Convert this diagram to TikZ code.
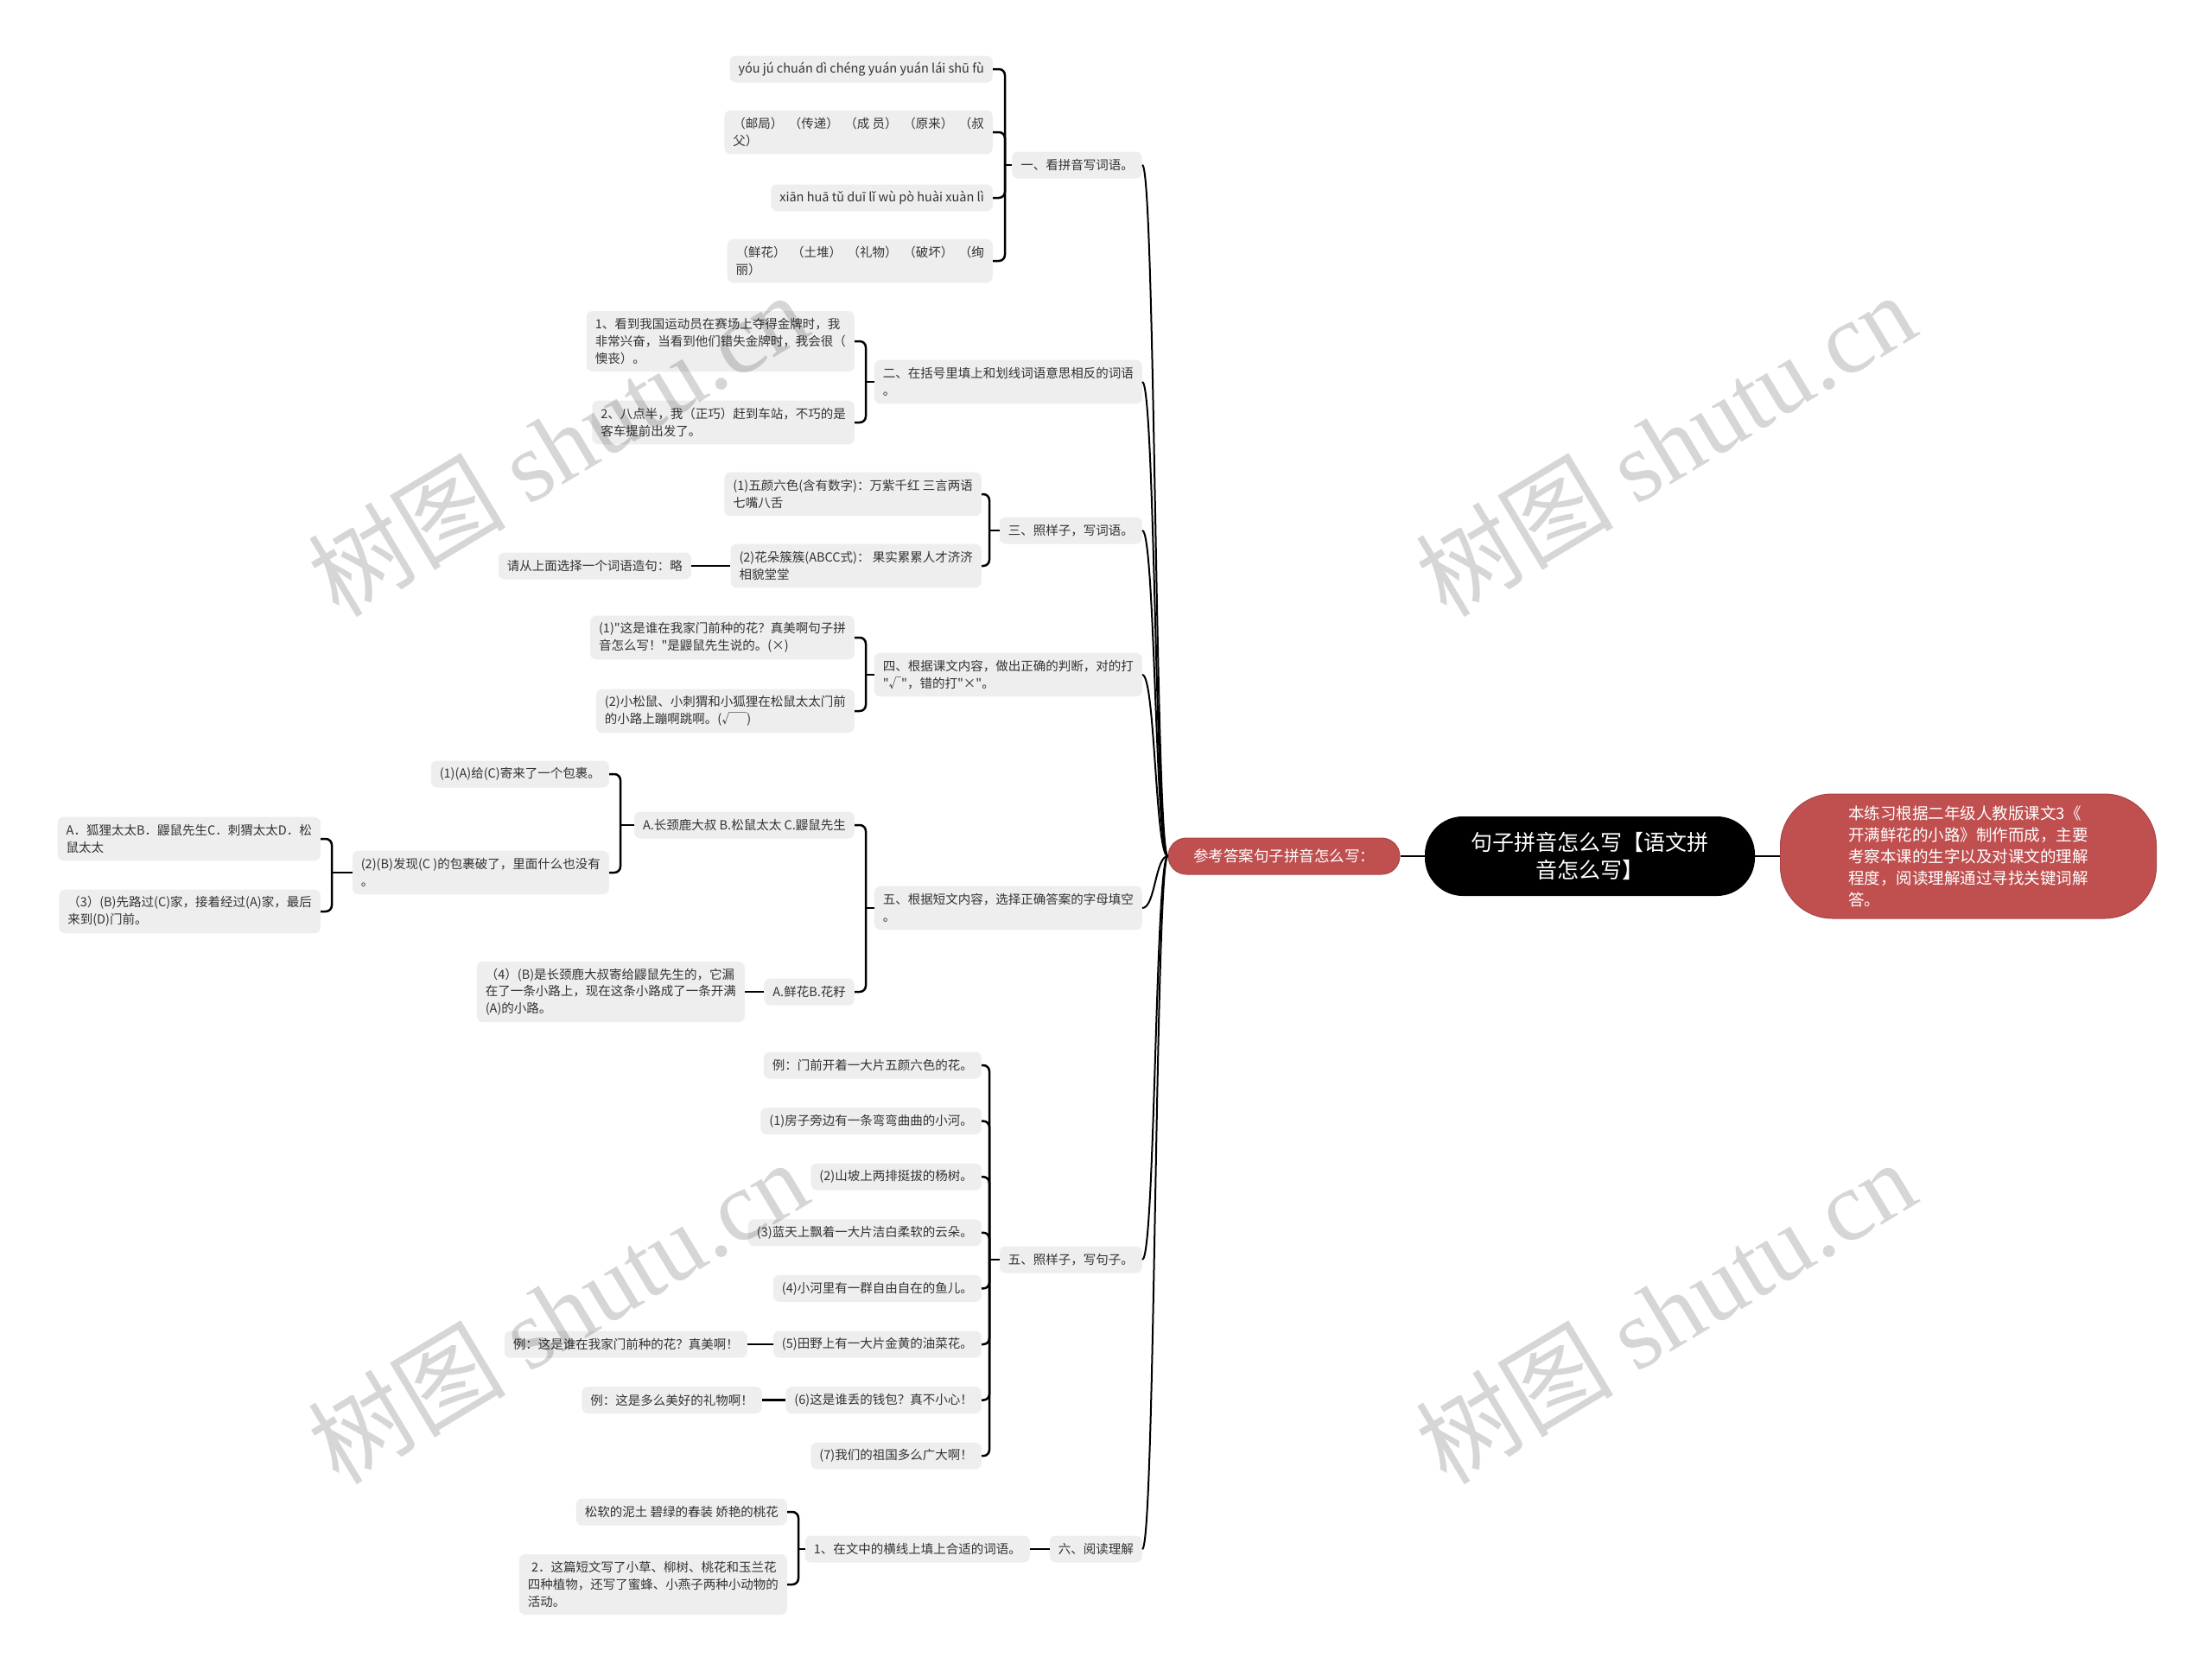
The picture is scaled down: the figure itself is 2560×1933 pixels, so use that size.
\documentclass[tikz,border=0pt]{standalone}
\usepackage{fontspec}
\setmainfont{Noto Sans CJK SC}[Ligatures=TeXOff]
\newfontfamily\wmlatin{Liberation Serif}
\definecolor{leafgray}{HTML}{EEEEEE}
\definecolor{txt}{HTML}{333333}
\definecolor{redn}{HTML}{C05050}
\definecolor{redd}{HTML}{A84545}
\newcommand\leaffont{\fontsize{14.5}{19.6}\selectfont}
\begin{document}
\begin{tikzpicture}[x=1pt,y=-1pt,
  leaf/.style={fill=leafgray, rounded corners=7pt, inner xsep=10pt, inner ysep=2pt, align=left, font=\leaffont, text=txt, anchor=east, minimum height=31pt},
  two/.style={leaf, minimum height=50.6pt},
  three/.style={leaf, minimum height=70pt},
  br/.style={draw=black, line width=2.5pt},
  brc/.style={br, rounded corners=7pt},
  trunk/.style={draw=black, line width=2pt},
  rootn/.style={fill=black, text=white, rounded corners=44pt, minimum width=382pt, minimum height=92pt, align=center, inner sep=0pt, font=\fontsize{25}{32.6}\selectfont},
  redbox/.style={fill=redn, draw=redd, line width=1pt, text=white, inner sep=0pt},
  wm/.style={font=\fontsize{115}{115}\selectfont, text=black, text opacity=0.16, rotate=31, inner sep=0pt}
]
\useasboundingbox (0,0) rectangle (2560,1933);
\fill[white] (0,0) rectangle (2560,1933);

% central nodes
\node[rootn] (root) at (1840,991) {句子拼音怎么写【语文拼\\音怎么写】};
\node[redbox, rounded corners=21pt, minimum width=268pt, minimum height=42pt, font=\fontsize{17.5}{22}\selectfont] (ans) at (1486,991) {参考答案句子拼音怎么写：};
\node[redbox, rounded corners=60pt, minimum width=435pt, minimum height=144pt, align=left, font=\fontsize{18.5}{25}\selectfont] (note) at (2278,991) {本练习根据二年级人教版课文3《\\开满鲜花的小路》制作而成，主要\\考察本课的生字以及对课文的理解\\程度，阅读理解通过寻找关键词解\\答。};
\draw[trunk] (ans.east) -- (root.west);
\draw[trunk] (root.east) -- (note.west);

% level 1
\node[leaf] (L1) at (1322,191) {一、看拼音写词语。};
\node[two] (L2) at (1322,442) {二、在括号里填上和划线词语意思相反的词语\\。};
\node[leaf] (L3) at (1322,614) {三、照样子，写词语。};
\node[two] (L4) at (1322,781) {四、根据课文内容，做出正确的判断，对的打\\"√"，错的打"×"。};
\node[two] (L5) at (1322,1051) {五、根据短文内容，选择正确答案的字母填空\\。};
\node[leaf] (L6) at (1322,1458) {五、照样子，写句子。};
\node[leaf] (L7) at (1322,1793) {六、阅读理解};

\coordinate (tr) at (1337,991);
\foreach \L in {L1,L2,L3,L4,L5,L6,L7}
  \draw[trunk] (ans.west) .. controls (tr) and (tr |- \L.east) .. (\L.east);

% group 1
\node[leaf] (a1) at (1149,80) {yóu jú chuán dì chéng yuán yuán lái shū fù};
\node[two] (a2) at (1149,153) {（邮局）\hspace{.45em}（传递）\hspace{.45em}（成 员）\hspace{.45em}（原来）\hspace{.45em}（叔\\父）};
\node[leaf] (a3) at (1149,229) {xiān huā tǔ duī lǐ wù pò huài xuàn lì};
\node[two] (a4) at (1149,302) {（鲜花）\hspace{.45em}（土堆）\hspace{.45em}（礼物）\hspace{.45em}（破坏）\hspace{.45em}（绚\\丽）};
\coordinate (k1) at (1163,191);
\draw[br] (L1.west) -- (k1);
\foreach \c in {a1,a2,a3,a4} \draw[brc] (k1) |- (\c.east);

% group 2
\node[three] (b1) at (989,395) {1、看到我国运动员在赛场上夺得金牌时，我\\非常兴奋，当看到他们错失金牌时，我会很（\\懊丧）。};
\node[two] (b2) at (989,489) {2、八点半，我（正巧）赶到车站，不巧的是\\客车提前出发了。};
\coordinate (k2) at (1002,442);
\draw[br] (L2.west) -- (k2);
\foreach \c in {b1,b2} \draw[brc] (k2) |- (\c.east);

% group 3
\node[two] (c1) at (1136,572) {(1)五颜六色(含有数字)：万紫千红 三言两语\\七嘴八舌};
\node[two] (c2) at (1136,655) {(2)花朵簇簇(ABCC式)： 果实累累人才济济\\相貌堂堂};
\node[leaf] (c2a) at (800,655) {请从上面选择一个词语造句：略};
\coordinate (k3) at (1145,614);
\draw[br] (L3.west) -- (k3);
\foreach \c in {c1,c2} \draw[brc] (k3) |- (\c.east);
\draw[br] (c2.west) -- (c2a.east);

% group 4
\node[two] (d1) at (989,738) {(1)"这是谁在我家门前种的花？真美啊句子拼\\音怎么写！"是鼹鼠先生说的。(×)};
\node[two] (d2) at (989,823) {(2)小松鼠、小刺猬和小狐狸在松鼠太太门前\\的小路上蹦啊跳啊。(√￣)};
\coordinate (k4) at (1002,781);
\draw[br] (L4.west) -- (k4);
\foreach \c in {d1,d2} \draw[brc] (k4) |- (\c.east);

% group 5
\node[leaf] (e1) at (989,955) {A.长颈鹿大叔 B.松鼠太太 C.鼹鼠先生};
\node[leaf] (e2) at (989,1148) {A.鲜花B.花籽};
\coordinate (k5) at (1002,1051);
\draw[br] (L5.west) -- (k5);
\foreach \c in {e1,e2} \draw[brc] (k5) |- (\c.east);

\node[leaf] (e11) at (705,896) {(1)(A)给(C)寄来了一个包裹。};
\node[two] (e12) at (705,1010) {(2)(B)发现(C )的包裹破了，里面什么也没有\\。};
\coordinate (k51) at (718,955);
\draw[br] (e1.west) -- (k51);
\foreach \c in {e11,e12} \draw[brc] (k51) |- (\c.east);

\node[two] (e121) at (371,971) {A．狐狸太太B．鼹鼠先生C．刺猬太太D．松\\鼠太太};
\node[two] (e122) at (371,1055) {（3）(B)先路过(C)家，接着经过(A)家，最后\\来到(D)门前。};
\coordinate (k512) at (384,1010);
\draw[br] (e12.west) -- (k512);
\foreach \c in {e121,e122} \draw[brc] (k512) |- (\c.east);

\node[three] (e21) at (862,1148) {（4）(B)是长颈鹿大叔寄给鼹鼠先生的，它漏\\在了一条小路上，现在这条小路成了一条开满\\(A)的小路。};
\draw[br] (e2.west) -- (e21.east);

% group 6
\node[leaf] (f0) at (1136,1233) {例：门前开着一大片五颜六色的花。};
\node[leaf] (f1) at (1136,1297.6) {(1)房子旁边有一条弯弯曲曲的小河。};
\node[leaf] (f2) at (1136,1362.2) {(2)山坡上两排挺拔的杨树。};
\node[leaf] (f3) at (1136,1426.8) {(3)蓝天上飘着一大片洁白柔软的云朵。};
\node[leaf] (f4) at (1136,1491.4) {(4)小河里有一群自由自在的鱼儿。};
\node[leaf] (f5) at (1136,1556) {(5)田野上有一大片金黄的油菜花。};
\node[leaf] (f6) at (1136,1620.6) {(6)这是谁丢的钱包？真不小心！};
\node[leaf] (f7) at (1136,1685.2) {(7)我们的祖国多么广大啊！};
\node[leaf] (f5a) at (865,1556) {例：这是谁在我家门前种的花？真美啊！};
\node[leaf] (f6a) at (882,1620.6) {例：这是多么美好的礼物啊！};
\coordinate (k6) at (1145,1458);
\draw[br] (L6.west) -- (k6);
\foreach \c in {f0,f1,f2,f3,f4,f5,f6,f7} \draw[brc] (k6) |- (\c.east);
\draw[br] (f5.west) -- (f5a.east);
\draw[br] (f6.west) -- (f6a.east);

% group 7
\node[leaf] (g1) at (1192,1793) {1、在文中的横线上填上合适的词语。};
\draw[br] (L7.west) -- (g1.east);
\node[leaf] (g11) at (911,1750) {松软的泥土 碧绿的春装 娇艳的桃花};
\node[three] (g12) at (911,1834) {\hspace{.3em}2．这篇短文写了小草、柳树、桃花和玉兰花\\四种植物，还写了蜜蜂、小燕子两种小动物的\\活动。};
\coordinate (k7) at (924,1793);
\draw[br] (g1.west) -- (k7);
\foreach \c in {g11,g12} \draw[brc] (k7) |- (\c.east);

% watermarks
\node[wm] (w1) at (645,514) {树图 {\wmlatin shutu.cn}};
\node[wm] (w2) at (1927,514) {树图 {\wmlatin shutu.cn}};
\node[wm] (w3) at (645,1518) {树图 {\wmlatin shutu.cn}};
\node[wm] (w4) at (1927,1518) {树图 {\wmlatin shutu.cn}};
\end{tikzpicture}
\end{document}
